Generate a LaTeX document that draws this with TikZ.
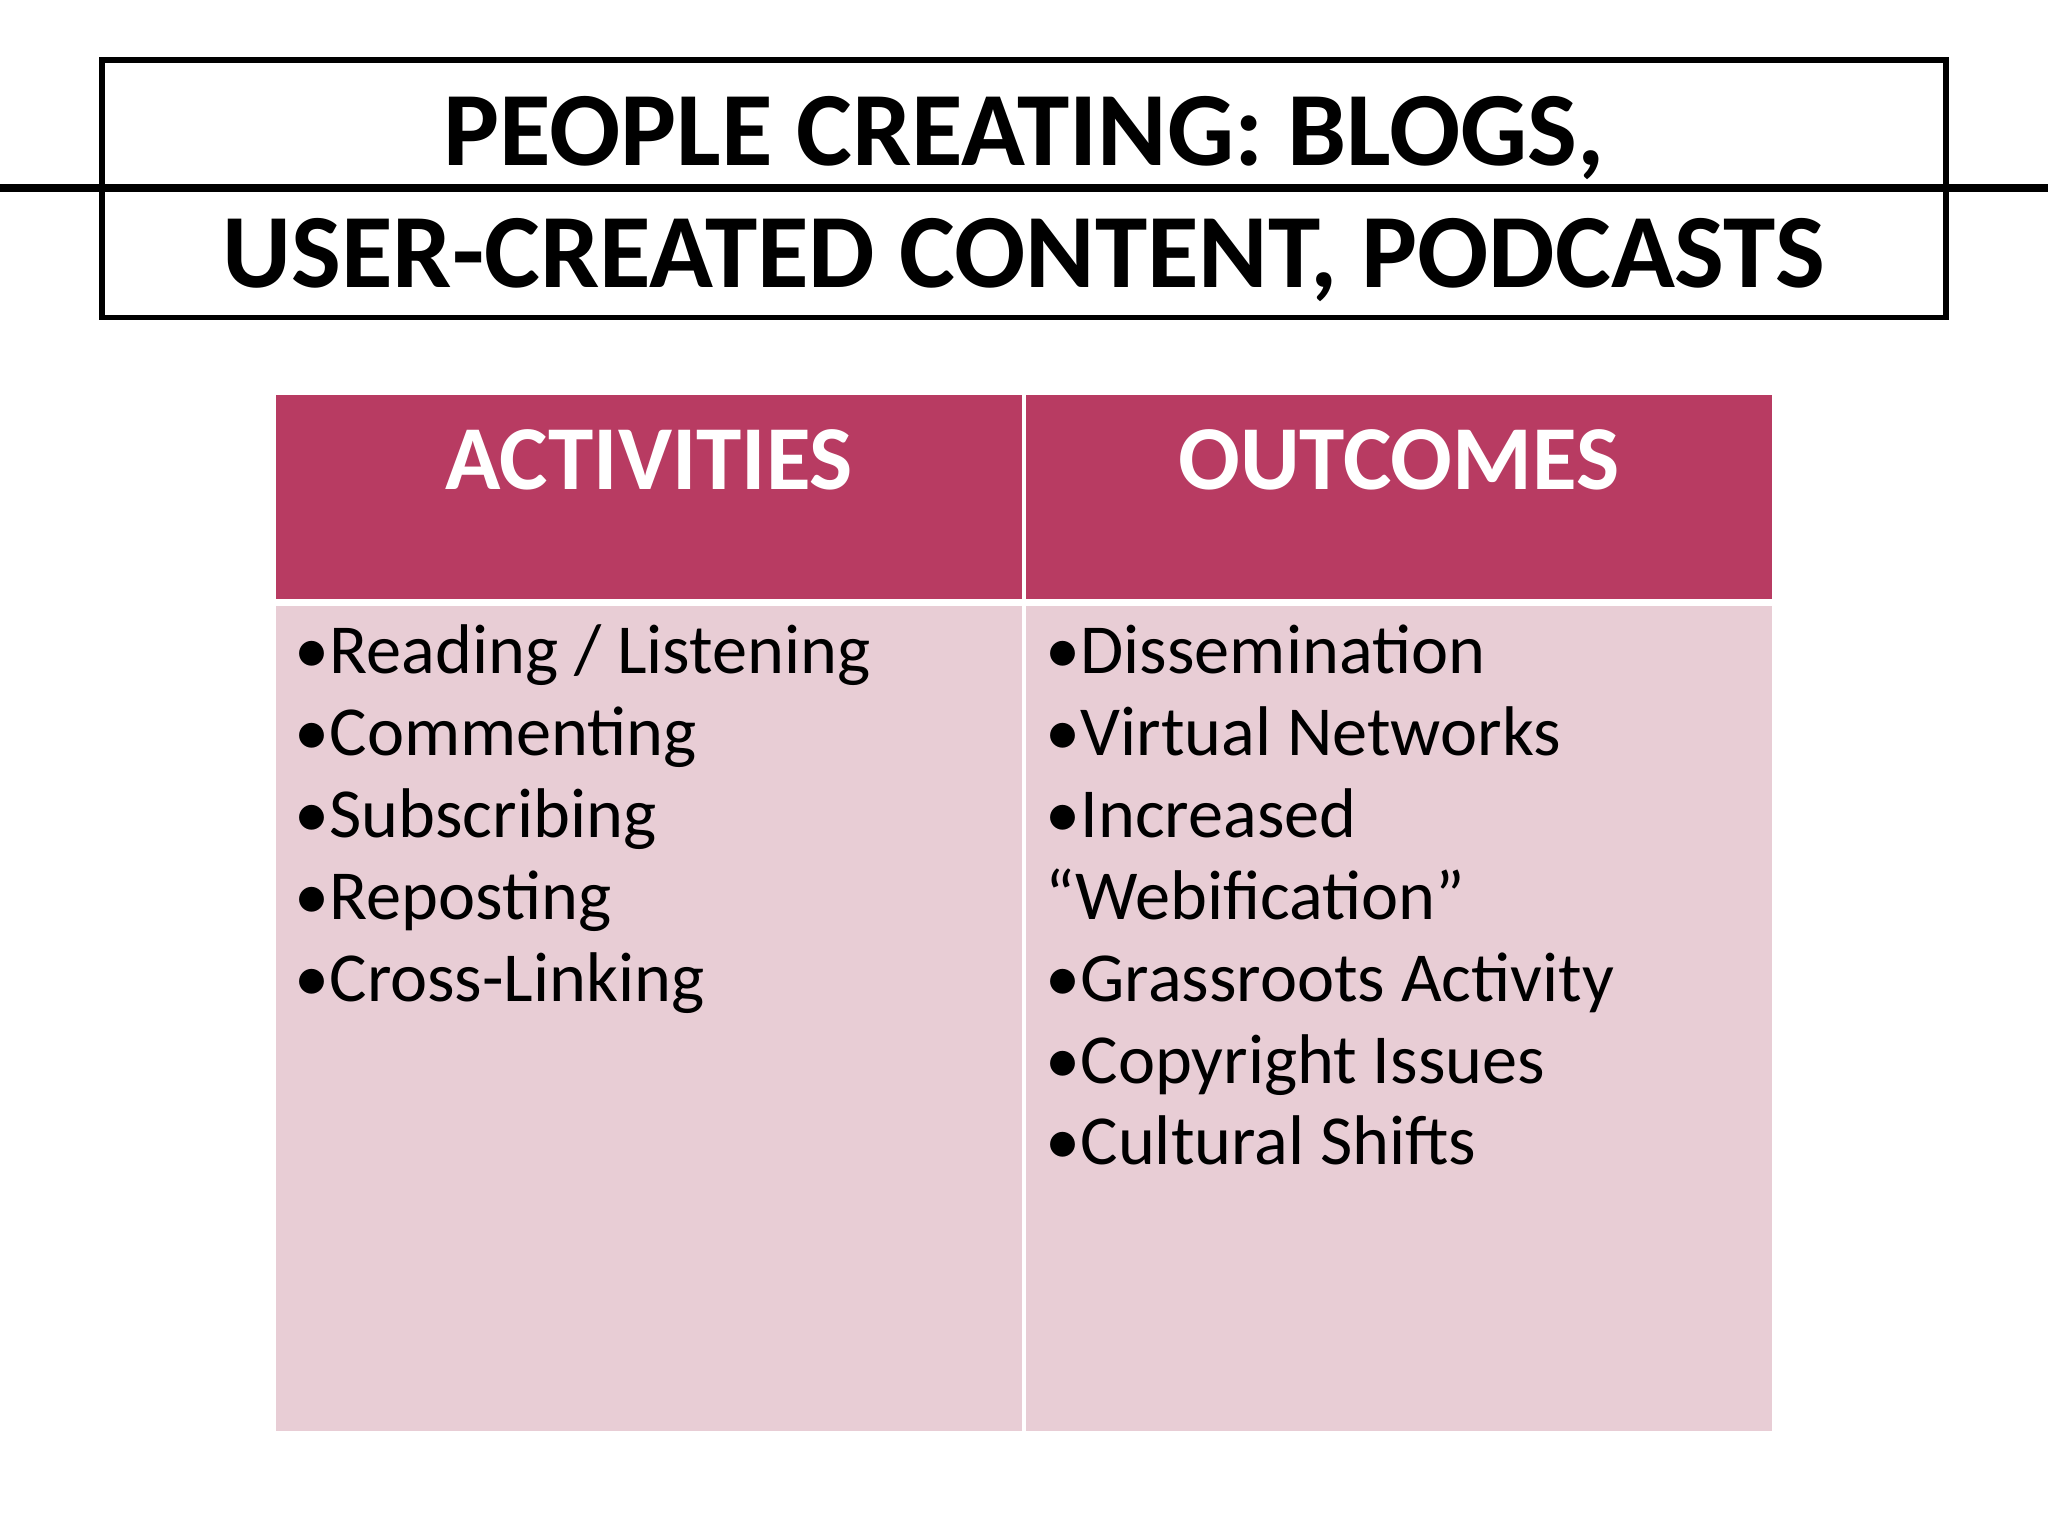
\documentclass[tikz,border=0pt]{standalone}
\usepackage{fontspec}
\setmainfont{Carlito}
\definecolor{hdr}{HTML}{B83B62}
\definecolor{bdy}{HTML}{E8CDD5}
\begin{document}
\begin{tikzpicture}[x=0.01306cm,y=-0.01306cm,
  hcell/.style={fill=hdr,draw=white,line width=1.2pt},
  bcell/.style={fill=bdy,draw=white,line width=1.2pt},
  htext/.style={text=white,font=\fontsize{26}{30}\selectfont\bfseries,anchor=base},
  btext/.style={font=\fontsize{20}{23.3}\selectfont,anchor=north west,align=left,inner sep=0pt}]
\useasboundingbox (0,0) rectangle (1568,1176);
\node[draw,line width=1.5pt,minimum width=1412\pgflinewidth,inner sep=0pt] (tb) at (784,144) {};
\draw[line width=1.5pt] (78,46) rectangle (1490,243);
\node[anchor=base,font=\fontsize{30}{34}\selectfont\bfseries] (t1) at (784,127) {PEOPLE CREATING: BLOGS,};
\node[anchor=base,font=\fontsize{30}{34}\selectfont\bfseries] (t2) at (784,220) {USER-CREATED CONTENT, PODCASTS};
\path[hcell] (210,301) rectangle (784,460);
\path[hcell] (784,301) rectangle (1358,460);
\path[bcell] (210,462) rectangle (784,1097);
\path[bcell] (784,462) rectangle (1358,1097);
\node[htext] (h1) at (497,375) {ACTIVITIES};
\node[htext] (h2) at (1071,375) {OUTCOMES};
\node[btext] (l) at (225,478) {•Reading / Listening\\•Commenting\\•Subscribing\\•Reposting\\•Cross-Linking};
\node[btext] (r) at (800,478) {•Dissemination\\•Virtual Networks\\•Increased\\“Webification”\\•Grassroots Activity\\•Copyright Issues\\•Cultural Shifts};
\end{tikzpicture}
\end{document}
